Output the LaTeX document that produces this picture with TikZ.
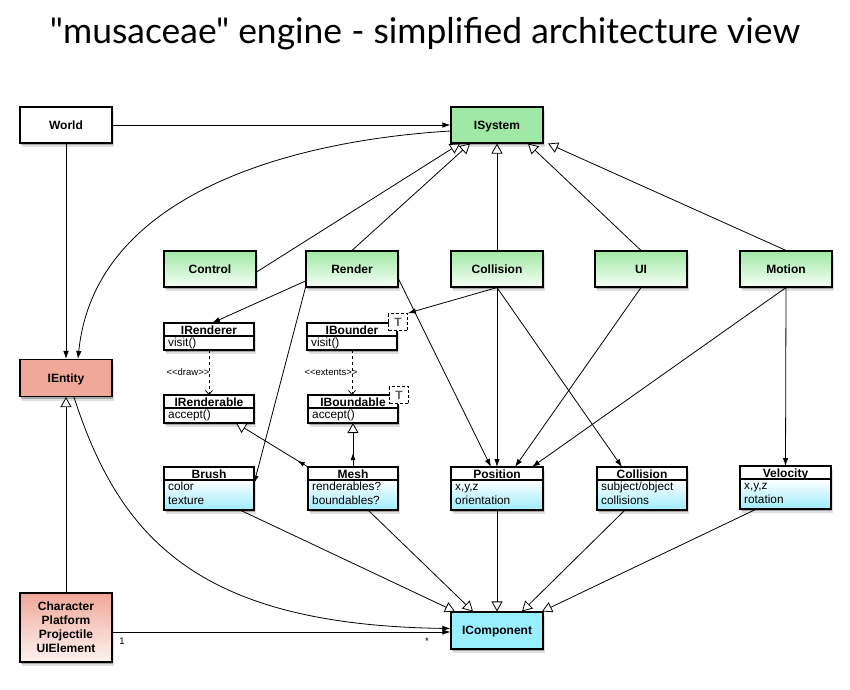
\documentclass[tikz,border=0pt]{standalone}
\usepackage{graphicx}
\usepackage{fontspec}
\setmainfont{Liberation Sans}
\newfontfamily\titlefont{Lato}
\usetikzlibrary{arrows.meta,shadows,fit,decorations.markings}

\definecolor{sysgreen}{RGB}{160,232,165}
\definecolor{sysgreenlight}{RGB}{246,255,246}
\definecolor{entred}{RGB}{240,168,152}
\definecolor{entredlight}{RGB}{253,242,240}
\definecolor{compcyan}{RGB}{153,238,255}
\definecolor{bodycyan}{RGB}{158,236,252}
\definecolor{tgray}{RGB}{90,90,90}

\newcommand{\lt}{\mbox{<}}
\newcommand{\gt}{\mbox{>}}

\tikzset{
  boxshadow/.style={
    drop shadow={shadow xshift=0.5pt, shadow yshift=-2pt, opacity=0.25, fill=black},
    drop shadow={shadow xshift=1.5pt, shadow yshift=-4pt, opacity=0.12, fill=black}},
  sysbox/.style={draw, line width=1.1pt, minimum width=92pt, minimum height=36pt,
    inner sep=0pt, font=\fontsize{12}{14}\selectfont\bfseries,
    text height=8.6pt, text depth=0pt, boxshadow},
  multibox/.style={draw, line width=1.1pt, minimum width=92pt, minimum height=36pt,
    inner sep=0pt, font=\fontsize{12}{14}\selectfont\bfseries, align=center, boxshadow},
  greenbox/.style={sysbox, top color=sysgreen, bottom color=sysgreenlight},
  clstitle/.style={anchor=base, inner sep=0pt, font=\fontsize{12}{13}\selectfont\bfseries},
  clsbody/.style={anchor=north west, align=left, inner xsep=4pt, inner ysep=0.5pt,
    font=\fontsize{11.8}{14}\selectfont},
  tbox/.style={draw, dashed, dash pattern=on 3pt off 2pt, line width=0.8pt, fill=white,
    minimum width=19pt, minimum height=17pt, inner sep=0pt, text=tgray,
    text height=8.6pt, text depth=0pt,
    font=\fontsize{12}{13}\selectfont\bfseries},
  conn/.style={line width=0.8pt},
  assoc/.style={conn, -{Latex[length=8pt,width=5.5pt]}},
  gen/.style={conn, -{Triangle[length=10pt,width=11pt,fill=white]}},
  dep/.style={conn, dash pattern=on 3pt off 3pt, -{Straight Barb[length=4pt,width=7pt]}},
  midarrow/.style={postaction={decorate}, decoration={markings,
    mark=at position #1 with {\arrow{Latex[length=7pt,width=5pt]}}}},
  smalllbl/.style={inner sep=0pt, font=\fontsize{9.5}{10}\selectfont},
}

% #1 name, #2 left, #3 top, #4 right, #5 bottom, #6 header bottom, #7 title, #8 body, #9 body colour
\newcommand{\ucls}[9]{%
  \node[fit={(#2,#3) (#4,#5)}, inner sep=0pt, outer sep=0pt, fill=white, boxshadow] (#1) {};
  \shade[top color=white, bottom color=#9] (#2,#6) rectangle (#4,#5);
  \draw[line width=1.1pt] (#2,#3) rectangle (#4,#5) (#2,#6) -- (#4,#6);
  \node[clstitle] at ({(#2+#4)/2},{#6-2}) {#7};
  \node[clsbody] at (#2,#6) {#8};
}

\begin{document}
\begin{tikzpicture}[x=1pt, y=-1pt]
\fill[white] (0,0) rectangle (850,689);
\useasboundingbox (0,0) rectangle (850,689);

% title
\node[anchor=base, inner sep=0pt] (title) at (425,43)
  {\resizebox{750pt}{!}{\titlefont "musaceae" engine - simplified architecture view}};

% plain boxes
\node[sysbox, fill=white] (world) at (66,125) {World};
\node[sysbox, fill=sysgreen] (isys) at (497,125) {ISystem};
\node[sysbox, fill=entred, minimum height=37pt] (ientity) at (66,378) {IEntity};
\node[greenbox] (ctrl) at (210,269) {Control};
\node[greenbox] (render) at (352,269) {Render};
\node[greenbox] (colsys) at (497,269) {Collision};
\node[greenbox] (ui) at (641,269) {UI};
\node[greenbox] (motion) at (786,269) {Motion};
\node[multibox, top color=entred, bottom color=entredlight, minimum height=69pt]
  (character) at (66,627.5) {Character\\Platform\\Projectile\\UIElement};
\node[sysbox, fill=compcyan, minimum height=37pt] (icomp) at (497,630.5) {IComponent};

% class boxes
\ucls{irenderer}{164}{323}{254}{350}{336}{IRenderer}{\strut visit()}{white}
\ucls{ibounder}{307}{323}{397}{350}{336}{IBounder}{\strut visit()}{white}
\ucls{irenderable}{164}{395}{254}{423}{408}{IRenderable}{\strut accept()}{white}
\ucls{iboundable}{308}{395}{398}{423}{408}{IBoundable}{\strut accept()}{white}
\ucls{brush}{164}{467}{254}{510}{480}{Brush}{\strut color\\texture}{bodycyan}
\ucls{mesh}{308}{467}{398}{510}{480}{Mesh}{\strut renderables?\\boundables?}{bodycyan}
\ucls{position}{451}{467}{543}{510}{480}{Position}{\strut x,y,z\\orientation}{bodycyan}
\ucls{colcomp}{597}{467}{687}{510}{480}{Collision}{\strut subject/object\\collisions}{bodycyan}
\ucls{velocity}{740}{466}{831}{509}{479}{Velocity}{\strut x,y,z\\rotation}{bodycyan}

\node[tbox] (tbA) at (398,322) {T};
\node[tbox] (tbB) at (399,395) {T};

% connectors: top
\draw[assoc] (world.east) -- (isys.west);
\draw[assoc] (world.south) -- (ientity.north);
\draw[assoc] ([yshift=-6pt]isys.west) .. controls (300,140) and (95,190) .. ([xshift=12pt]ientity.north);

\draw[gen] ([yshift=-3pt]ctrl.east) -- ([xshift=-37pt]isys.south);
\draw[gen] (render.north) -- ([xshift=-27pt]isys.south);
\draw[gen] (colsys.north) -- (isys.south);
\draw[gen] (ui.north) -- ([xshift=31pt]isys.south);
\draw[gen] (motion.north) -- ([xshift=51pt]isys.south);

% systems to components
\draw[assoc] ([yshift=-12pt]render.west) -- ([xshift=3pt]irenderer.north);
\draw[assoc] (render.south west) -- ([yshift=5pt]brush.east);
\draw[assoc] ([yshift=-10pt]render.east) -- ([xshift=-6pt]position.north);
\draw[assoc] (colsys.south) -- (tbA.north east);
\draw[assoc] (colsys.south) -- (position.north);
\draw[assoc] (colsys.south) -- ([xshift=-20pt]colcomp.north);
\draw[assoc] (ui.south) -- ([xshift=18pt]position.north);
\draw[assoc] (motion.south) -- ([xshift=35pt]position.north);
\draw[assoc] (motion.south) -- (velocity.north);

% dependencies
\draw[dep] (irenderer.south) -- (irenderable.north);
\node[smalllbl] (lbldraw) at (188,372) {\lt\lt draw\gt\gt};
\draw[dep] (ibounder.south) -- ([xshift=-1pt]iboundable.north);
\node[smalllbl] (lblext) at (331,372) {\lt\lt extents\gt\gt};

% mesh
\draw[gen, midarrow=12pt] (mesh.north west) -- ([xshift=27pt]irenderable.south);
\draw[gen, midarrow=14pt] (mesh.north) -- (iboundable.south);

% components to IComponent
\draw[gen] ([xshift=31pt]brush.south) -- ([xshift=-42pt]icomp.north);
\draw[gen] ([xshift=15pt]mesh.south) -- ([xshift=-24pt]icomp.north);
\draw[gen] (position.south) -- (icomp.north);
\draw[gen] ([xshift=-17pt]colcomp.south) -- ([xshift=25pt]icomp.north);
\draw[gen] ([xshift=-29pt]velocity.south) -- ([xshift=45pt]icomp.north);

% entity relations
\draw[assoc] ([xshift=8pt]ientity.south) .. controls (120,540) and (200,625) .. ([yshift=2pt]icomp.west);
\draw[gen] (character.north) -- (ientity.south);
\draw[assoc] ([yshift=-4.5pt]character.east) -- ([yshift=-1.5pt]icomp.west);
\node[smalllbl] (mone) at (122,641) {1};
\node[smalllbl] (mmany) at (427,641) {*};
\end{tikzpicture}
\end{document}
